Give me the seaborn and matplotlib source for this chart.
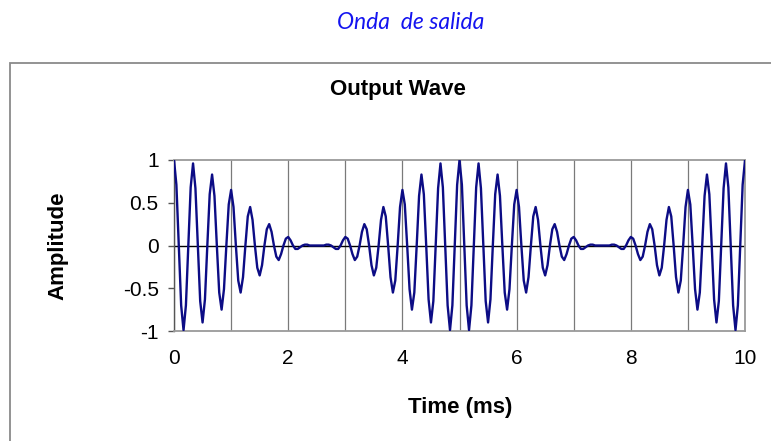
import matplotlib
matplotlib.use('Agg')
import numpy as np
import matplotlib.pyplot as plt
import seaborn as sns
from matplotlib.patches import Rectangle

time_ms = np.linspace(0, 10, 241)
amplitude = [
    1.00, 0.71, 0.00, -0.70, -0.99, -0.70, 0.00, 0.68, 0.96, 0.67,
    0.00, -0.65, -0.90, -0.63, 0.00, 0.60, 0.83, 0.58, 0.00, -0.55,
    -0.75, -0.51, 0.00, 0.48, 0.65, 0.45, 0.00, -0.41, -0.55, -0.37,
    0.00, 0.34, 0.45, 0.30, 0.00, -0.26, -0.35, -0.23, 0.00, 0.19,
    0.25, 0.16, 0.00, -0.13, -0.17, -0.10, 0.00, 0.08, 0.10, 0.06,
    0.00, -0.04, -0.04, -0.02, 0.00, 0.01, 0.01, 0.00, 0.00, 0.00,
    0.00,
    0.00, 0.00, 0.00, 0.01, 0.01, 0.00, -0.02, -0.04, -0.04, 0.00,
    0.06, 0.10, 0.08, 0.00, -0.10, -0.17, -0.13, 0.00, 0.16, 0.25,
    0.19, 0.00, -0.23, -0.35, -0.26, 0.00, 0.30, 0.45, 0.34, 0.00,
    -0.37, -0.55, -0.41, 0.00, 0.45, 0.65, 0.48, 0.00, -0.51, -0.75,
    -0.55, 0.00, 0.58, 0.83, 0.60, 0.00, -0.63, -0.90, -0.65, 0.00,
    0.67, 0.96, 0.68, 0.00, -0.70, -0.99, -0.70, 0.00, 0.71, 1.00,
    0.71, 0.00, -0.70, -0.99, -0.70, 0.00, 0.68, 0.96, 0.67,
    0.00, -0.65, -0.90, -0.63, 0.00, 0.60, 0.83, 0.58, 0.00, -0.55,
    -0.75, -0.51, 0.00, 0.48, 0.65, 0.45, 0.00, -0.41, -0.55, -0.37,
    0.00, 0.34, 0.45, 0.30, 0.00, -0.26, -0.35, -0.23, 0.00, 0.19,
    0.25, 0.16, 0.00, -0.13, -0.17, -0.10, 0.00, 0.08, 0.10, 0.06,
    0.00, -0.04, -0.04, -0.02, 0.00, 0.01, 0.01, 0.00, 0.00, 0.00,
    0.00,
    0.00, 0.00, 0.00, 0.01, 0.01, 0.00, -0.02, -0.04, -0.04, 0.00,
    0.06, 0.10, 0.08, 0.00, -0.10, -0.17, -0.13, 0.00, 0.16, 0.25,
    0.19, 0.00, -0.23, -0.35, -0.26, 0.00, 0.30, 0.45, 0.34, 0.00,
    -0.37, -0.55, -0.41, 0.00, 0.45, 0.65, 0.48, 0.00, -0.51, -0.75,
    -0.55, 0.00, 0.58, 0.83, 0.60, 0.00, -0.63, -0.90, -0.65, 0.00,
    0.67, 0.96, 0.68, 0.00, -0.70, -0.99, -0.70, 0.00, 0.71, 1.00,
]
x_ticks = [0, 2, 4, 6, 8, 10]
x_grid = [1, 3, 5, 7, 9]
y_ticks = [-1, -0.5, 0, 0.5, 1]
y_labels = ['-1', '-0.5', '0', '0.5', '1']

sns.set_style("white")
plt.rcParams['font.family'] = ['Liberation Sans', 'DejaVu Sans']
plt.rcParams['text.color'] = 'black'
plt.rcParams['axes.labelcolor'] = 'black'

fig = plt.figure(figsize=(7.71, 4.41), dpi=100)
ax = fig.add_axes([0.2257, 0.2494, 0.7406, 0.3878])

# outer chart frame (runs off the right and bottom edges)
fig.add_artist(Rectangle((0.013, -0.2), 1.2, 1.057, transform=fig.transFigure,
                         fill=False, edgecolor='#8a8a8a', lw=1.3))

sns.lineplot(x=time_ms, y=amplitude, ax=ax, color='#0c0c85', linewidth=1.7,
             errorbar=None, zorder=3)

ax.set_xlim(0, 10)
ax.set_ylim(-1, 1)
ax.set_xticks(x_ticks)
ax.set_xticklabels([str(v) for v in x_ticks])
ax.set_xticks(x_grid, minor=True)
ax.set_yticks(y_ticks)
ax.set_yticklabels(y_labels)
ax.grid(True, which='both', axis='x', color='#7a7a7a', lw=0.9)
ax.grid(False, axis='y')
ax.axhline(0, color='black', lw=1, zorder=2)

for side in ['top', 'right', 'bottom']:
    ax.spines[side].set_color('#9a9a9a')
    ax.spines[side].set_linewidth(1.3)
ax.spines['left'].set_color('#555555')
ax.spines['left'].set_linewidth(1)

ax.tick_params(axis='x', which='both', length=0, pad=13, labelsize=15,
               labelcolor='black')
ax.tick_params(axis='y', length=4, width=1, color='#555555', pad=7, labelsize=15,
               labelcolor='black', left=True)

ax.set_ylabel('Amplitude', fontsize=16, fontweight='bold')
ax.yaxis.set_label_coords(-0.185, 0.5)
ax.set_xlabel('Time (ms)', fontsize=16, fontweight='bold')
ax.xaxis.set_label_coords(0.501, -0.385)

fig.text(0.516, 0.796, 'Output Wave', ha='center', va='center',
         fontsize=16, fontweight='bold')
fig.text(0.533, 0.950, 'Onda  de salida', ha='center', va='center',
         fontsize=16.5, style='italic', color='#1414f0', family=['Lato', 'DejaVu Sans'])

plt.savefig('out.png', dpi=100)
plt.close()
